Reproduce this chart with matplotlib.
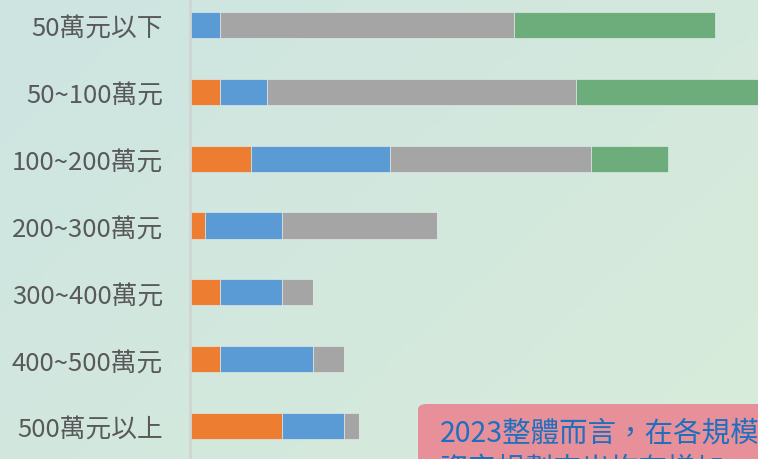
import numpy as np
import matplotlib.pyplot as plt
from matplotlib.patches import FancyBboxPatch

plt.rcParams['font.family'] = ['Noto Sans CJK TC', 'DejaVu Sans']

# budget brackets, top to bottom
categories = ['50萬元以下', '50~100萬元', '100~200萬元', '200~300萬元',
              '300~400萬元', '400~500萬元', '500萬元以上']

# stacked segments
orange = [0, 2, 4, 1, 2, 2, 6]
blue = [2, 3, 9, 5, 4, 6, 4]
gray = [19, 20, 13, 10, 2, 2, 1]
green = [13, 15, 5, 0, 0, 0, 0]

series = [orange, blue, gray, green]
colors = ['#ED7D31', '#5B9BD5', '#A5A5A5', '#6DAD7B']

note_lines = ['2023整體而言，在各規模企業的', '資安規劃支出均有增加']

W, H = 758, 460
fig = plt.figure(figsize=(W / 100, H / 100), dpi=100)

# soft teal -> green background gradient
bg = fig.add_axes([0, 0, 1, 1], zorder=-10)
gx, gy = np.meshgrid(np.linspace(0, 1, 200), np.linspace(0, 1, 120))
t = np.clip((gx * 0.6 + gy * 0.4), 0, 1)[..., None]
c0 = np.array([205, 228, 226]) / 255
c1 = np.array([216, 236, 218]) / 255
bg.imshow(c0 * (1 - t) + c1 * t, aspect='auto', extent=[0, 1, 0, 1], origin='upper')
bg.axis('off')

ax = fig.add_axes([189.5 / W, 0, (W - 189.5) / W, 1])
ax.set_facecolor('none')

y = np.arange(len(categories))
left = np.zeros(len(categories))
for vals, col in zip(series, colors):
    vals = np.array(vals, dtype=float)
    ax.barh(y, vals, left=left, height=0.39, color=col,
            edgecolor='#dfe8e4', linewidth=0.5)
    left += vals

unit = 15.45  # px per unit
ax.set_xlim(0, (W - 189.5) / unit)
row = 66.83
ax.set_ylim((H - 26) / row, -26 / row)

ax.set_yticks(y)
ax.set_yticklabels(categories, fontsize=18.5, color='#595959')
ax.tick_params(axis='y', length=0, pad=19)
ax.set_xticks([])
for s in ['top', 'right', 'bottom']:
    ax.spines[s].set_visible(False)
ax.spines['left'].set_color('#cfd6d3')
ax.spines['left'].set_linewidth(2)

# pink note box, running off the edge
box = FancyBboxPatch((418 / W, -0.2), 0.6, 1 - 405 / H + 0.2,
                     boxstyle='round,pad=0,rounding_size=0.012',
                     transform=fig.transFigure, facecolor='#E8909A',
                     edgecolor='none', zorder=5)
fig.patches.append(box)
fig.text(440 / W, 1 - 443 / H, note_lines[0], fontsize=20.5, color='#1F6FC0',
         va='baseline', zorder=6)
fig.text(440 / W, 1 - 478 / H, note_lines[1], fontsize=20.5, color='#1F6FC0',
         va='baseline', zorder=6)

fig.savefig('out.png', dpi=100)
